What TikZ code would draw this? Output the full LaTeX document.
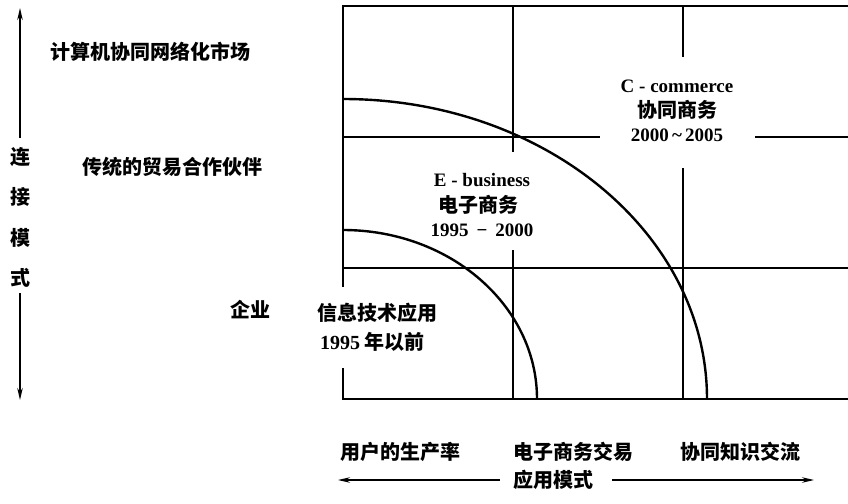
\documentclass[tikz,border=0pt]{standalone}
\usepackage{fontspec}
\setmainfont{Liberation Serif}
\newfontfamily\cjk{Noto Sans CJK SC}
\usetikzlibrary{arrows.meta}
\begin{document}
\begin{tikzpicture}[x=1pt,y=-1pt,
  frame/.style={line width=2.4pt},
  axis/.style={line width=1.5pt,-{Stealth[length=12pt,width=5.5pt]}},
  cn/.style={font=\cjk\bfseries\fontsize{20}{22}\selectfont,inner sep=0pt},
  lat/.style={font=\bfseries\fontsize{19}{22}\selectfont,inner sep=0pt}]
\useasboundingbox (0,0) rectangle (848,503);
% frame
\draw[frame] (343,287) -- (343,6) -- (848,6);
\draw[frame] (343,368) -- (343,399) -- (848,399);
% vertical lines
\draw[frame] (513,6) -- (513,152);
\draw[frame] (513,250) -- (513,399);
\draw[frame] (683,6) -- (683,57);
\draw[frame] (683,168) -- (683,399);
% horizontal lines
\draw[frame] (343,137) -- (600,137);
\draw[frame] (755,137) -- (848,137);
\draw[frame] (343,268) -- (848,268);
% arcs
\draw[frame] (343,230) arc[start angle=-90,end angle=0,x radius=194,y radius=169];
\draw[frame] (343,99) arc[start angle=-90,end angle=0,x radius=364,y radius=300];
% left axis
\coordinate (vt) at (20,8);
\coordinate (vb) at (20,400);
\node[cn] (v1) at (20,157) {连};
\node[cn] (v2) at (20,197) {接};
\node[cn] (v3) at (20,238) {模};
\node[cn] (v4) at (20,278) {式};
\draw[axis] (20,138) -- (vt);
\draw[axis] (20,293) -- (vb);
% left labels
\node[cn,anchor=west] (l1) at (50,52) {计算机协同网络化市场};
\node[cn,anchor=west] (l2) at (82,167) {传统的贸易合作伙伴};
\node[cn,anchor=west] (l3) at (230,310) {企业};
% region labels
\node[cn,anchor=west] (it1) at (317,313) {信息技术应用};
\node[cn,anchor=west] (it2) at (320,342) {{\bfseries\rmfamily 1995} 年以前};
\node[lat] (eb1) at (482,180) {E - business};
\node[cn] (eb2) at (478,205) {电子商务};
\node[lat] (eb3) at (482,230) {1995 \,−\, 2000};
\node[lat] (cc1) at (677,86) {C - commerce};
\node[cn] (cc2) at (677,110) {协同商务};
\node[lat] (cc3) at (677,135) {2000\,\textasciitilde\,2005};
% bottom labels
\node[cn,anchor=west] (b1) at (340,452) {用户的生产率};
\node[cn,anchor=west] (b2) at (513,452) {电子商务交易};
\node[cn,anchor=west] (b3) at (680,452) {协同知识交流};
\node[cn,anchor=west] (b4) at (513,480) {应用模式};
\coordinate (hl) at (338,480);
\coordinate (hr) at (814,480);
\draw[axis] (b4.west) ++(-13,0) -- (hl);
\draw[axis] (b4.east) ++(19,0) -- (hr);
\end{tikzpicture}
\end{document}
